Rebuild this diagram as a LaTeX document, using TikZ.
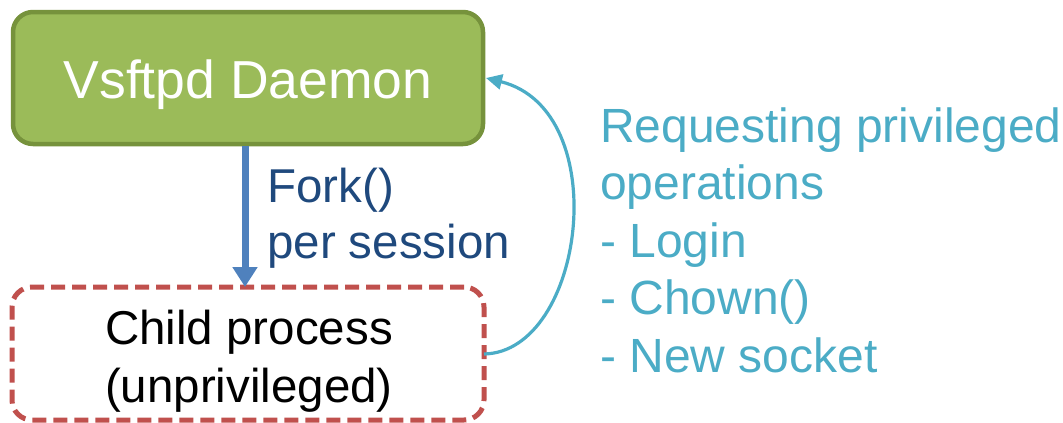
\documentclass[tikz,border=0pt]{standalone}
\usepackage{fontspec}
\setmainfont{Liberation Sans}
\usetikzlibrary{arrows.meta}
\definecolor{gfill}{HTML}{9BBB59}
\definecolor{gdraw}{HTML}{76923C}
\definecolor{rdraw}{HTML}{C0504D}
\definecolor{bluearr}{HTML}{4F81BD}
\definecolor{darkblue}{HTML}{1F497D}
\definecolor{cyanc}{HTML}{4BACC6}
\tikzset{
  daemon/.style={draw=gdraw, fill=gfill, line width=4.5pt, rounded corners=20pt},
  child/.style={draw=rdraw, line width=5pt, rounded corners=20pt, dash pattern=on 14pt off 7pt},
  lbl/.style={inner sep=0pt, anchor=base west, align=left},
}
\begin{document}
\begin{tikzpicture}[x=1pt,y=-1pt]
\useasboundingbox (0,0) rectangle (1063,423);
% boxes
\node[daemon, minimum width=470pt, minimum height=132pt] (d) at (248,78) {};
\node[child, minimum width=472pt, minimum height=133pt] (c) at (248,353.5) {};
% texts (base anchor = last line's baseline)
\node[inner sep=0pt, anchor=base, text=white, font=\fontsize{53.5}{62}\selectfont] (dt) at (248,98) {Vsftpd Daemon};
\node[inner sep=0pt, anchor=base, align=center, font=\fontsize{47.5}{58}\selectfont] (ct) at (249,402) {Child process\\(unprivileged)};
\node[lbl, text=darkblue, font=\fontsize{47.5}{56}\selectfont] (fork) at (267,258) {Fork()\\per session};
\node[lbl, text=cyanc, font=\fontsize{48}{57.5}\selectfont] (req) at (600,372) {Requesting privileged\\operations\\- Login\\- Chown()\\- New socket};
% connectors
\coordinate (cs) at (484,354);
\coordinate (de) at (486,78);
\draw[bluearr, line width=7pt, -{Triangle[width=24pt,length=20pt]}] (245,146) -- (245,287);
\draw[cyanc, line width=3.2pt, -{Triangle[width=15pt,length=16pt]}] (cs) .. controls (585,352) and (615,110) .. (de);
\end{tikzpicture}
\end{document}
